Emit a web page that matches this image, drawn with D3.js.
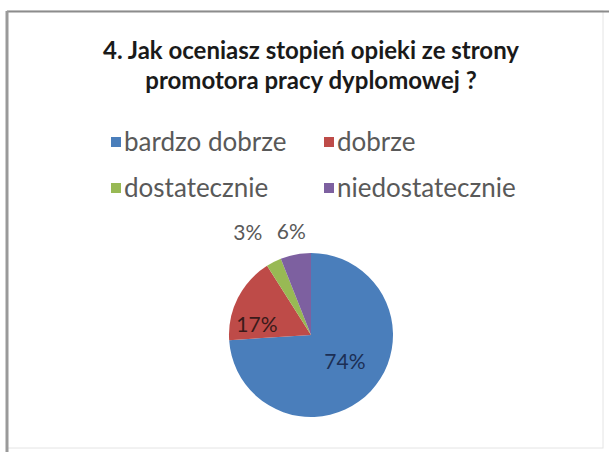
<!DOCTYPE html>
<html>
<head>
<meta charset="utf-8">
<script src="https://cdn.jsdelivr.net/npm/d3@7"></script>
<style>
  html, body { margin: 0; padding: 0; background: #fff; }
  svg { display: block; }
</style>
</head>
<body>
<svg id="chart" width="609" height="452"></svg>
<script>
// Survey answers and their shares (percent)
const categories = ["bardzo dobrze", "dobrze", "dostatecznie", "niedostatecznie"];
const values = [74, 17, 3, 6];
const colors = ["#4a7ebb", "#be4b48", "#98b954", "#7d60a0"];
const titleLines = ["4. Jak oceniasz stopień opieki ze strony", "promotora pracy dyplomowej ?"];

const svg = d3.select("#chart");
const font = "Lato, 'Open Sans', sans-serif";

// chart area frame: darker top/left edges, faint right/bottom
svg.append("rect").attr("x", 7).attr("y", 11).attr("width", 596).attr("height", 437)
  .attr("fill", "#fff").attr("stroke", "#e4e4e4").attr("stroke-width", 1);
svg.append("line").attr("x1", 7).attr("x2", 609).attr("y1", 11.5).attr("y2", 11.5)
  .attr("stroke", "#8c8c8c").attr("stroke-width", 2);
svg.append("line").attr("x1", 7).attr("x2", 7).attr("y1", 11).attr("y2", 452)
  .attr("stroke", "#9a9a9a").attr("stroke-width", 3);

// title
svg.append("g").selectAll("text").data(titleLines).join("text")
  .attr("x", 311).attr("y", (d, i) => 59 + i * 30)
  .attr("text-anchor", "middle")
  .attr("font-family", font).attr("font-weight", "bold").attr("font-size", 24)
  .attr("fill", "#1a1a1a")
  .text(d => d);

// legend, two columns by two rows
const legendX = d3.scaleOrdinal().domain([0, 1]).range([111, 324]);
const legendY = d3.scaleOrdinal().domain([0, 1]).range([142, 188]);
const legend = svg.append("g").selectAll("g").data(categories).join("g")
  .attr("transform", (d, i) => `translate(${legendX(i % 2)},${legendY(Math.floor(i / 2))})`);
legend.append("rect").attr("x", 0).attr("y", -5).attr("width", 10).attr("height", 10)
  .attr("fill", (d, i) => colors[i]);
legend.append("text").attr("x", 13).attr("y", 0).attr("dy", "0.35em")
  .attr("font-family", font).attr("font-size", 26).attr("fill", "#595959")
  .text(d => d);

// pie, first slice starting at 12 o'clock going clockwise
const cx = 311, cy = 335, r = 82;
const pie = d3.pie().sort(null).value(d => d)(values);
const arc = d3.arc().innerRadius(0).outerRadius(r);
const g = svg.append("g").attr("transform", `translate(${cx},${cy})`);
g.selectAll("path").data(pie).join("path")
  .attr("d", arc)
  .attr("fill", (d, i) => colors[i]);

// data label placement: radius factor and angular nudge (radians) per slice
const labelLayout = [
  { k: 0.53, nudge: -0.08, fill: "#1c2f55" },
  { k: 0.67, nudge: -0.29, fill: "#3a1a1a" },
  { k: 1.47, nudge: -0.08, fill: "#595959" },
  { k: 1.28, nudge: 0.0, fill: "#595959" }
];
g.selectAll("text").data(pie).join("text")
  .attr("transform", (d, i) => {
    const L = labelLayout[i];
    const a = (d.startAngle + d.endAngle) / 2 + L.nudge;
    return `translate(${Math.sin(a) * r * L.k},${-Math.cos(a) * r * L.k})`;
  })
  .attr("text-anchor", "middle").attr("dy", "0.35em")
  .attr("font-family", font).attr("font-size", 21)
  .attr("fill", (d, i) => labelLayout[i].fill)
  .text(d => d.data + "%");
</script>
</body>
</html>
